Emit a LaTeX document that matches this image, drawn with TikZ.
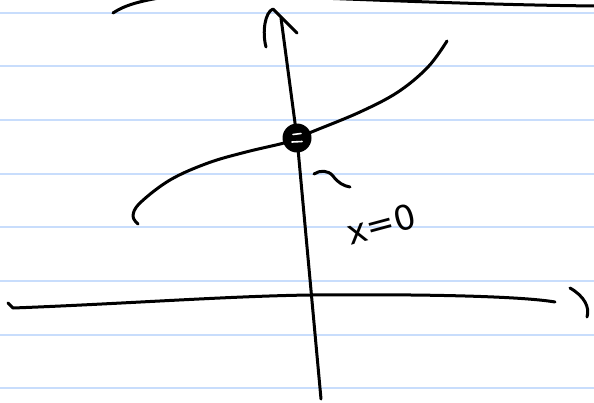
\documentclass[tikz,border=0pt]{standalone}
\usepackage{fontspec}
\setmainfont{DejaVu Sans}
\definecolor{rulecol}{RGB}{200,221,252}
\begin{document}
\begin{tikzpicture}[x=1pt,y=-1pt,line cap=round,line join=round,
  ink/.style={line width=3pt,black},
  paperrule/.style={line width=2.2pt,rulecol}]
\useasboundingbox (0,0) rectangle (594,402);
\fill[white] (0,0) rectangle (594,402);
\foreach \yy in {12.7,66.3,120,173.7,227.3,281,334.7,388.3}
  \draw[paperrule] (0,\yy) -- (594,\yy);
% top stroke (mostly off the page)
\draw[ink] (113,13) .. controls (125,5) and (140,1) .. (165,-3);
\draw[ink] (320,-2) .. controls (400,1) and (500,5) .. (596,6);
% vertical axis with arrow
\coordinate (vbot) at (321,399);
\coordinate (p) at (297,138);
\coordinate (vtop) at (281,18);
\draw[ink] (vbot) -- (p) -- (vtop);
\draw[ink] (266,47) .. controls (262,32) and (265,12) .. (273,9) -- (297,33);
% horizontal axis
\draw[ink] (8,303) -- (13,308) .. controls (120,304) and (230,296) .. (311,295)
  .. controls (420,294) and (520,296) .. (555,302);
\draw[ink] (570,288) .. controls (584,296) and (590,307) .. (587,317);
% curve
\draw[ink] plot[smooth,tension=0.6] coordinates {(138,224) (133,216) (140,203) (170,180) (208,163) (246,152) (284,143) (297,138) (314,131) (360,112) (398,92) (428,67) (447,41)};
% point
\fill[black] (p) circle (14.5);
\draw[white,line width=1.6pt] (293,134.5) -- (301,133.5);
\draw[white,line width=1.6pt] (292,142) -- (302,141.5);
% tilde mark
\draw[ink] (314,174) .. controls (320,170) and (328,170) .. (333,176) .. controls (338,183) and (344,186) .. (350,187);
% label
\node[rotate=15,inner sep=0pt,font=\fontsize{34}{34}\selectfont] (lbl) at (381,224) {x=0};
\end{tikzpicture}
\end{document}
